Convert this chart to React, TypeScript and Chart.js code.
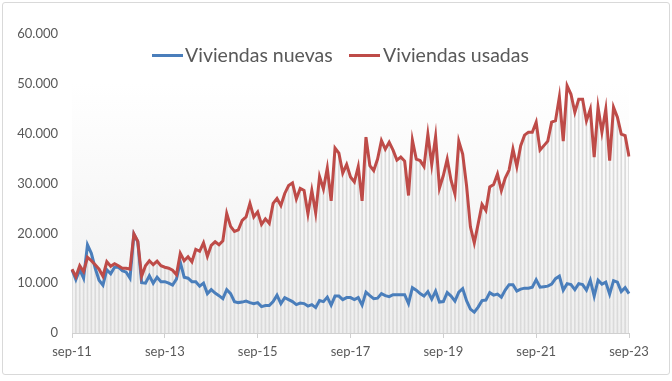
import React, { useEffect, useRef } from "react";
import { Chart, registerables } from "chart.js";

Chart.register(...registerables);

// ---- Data ----
const MONTHS = ["ene", "feb", "mar", "abr", "may", "jun", "jul", "ago", "sep", "oct", "nov", "dic"];
const START_YEAR = 2011;
const START_MONTH = 8; // sep
const N_POINTS = 145; // sep-11 .. sep-23

const VIVIENDAS_NUEVAS = [
  12700, 10700, 12700, 11000, 17700, 16000, 13000, 10600, 9600, 12700,
  11900, 13200, 13200, 12500, 12200, 11000, 19800, 18300, 10100, 10000,
  11500, 10000, 11200, 10300, 10300, 10000, 9600, 10800, 14200, 11200,
  11000, 10300, 10300, 9400, 10000, 7900, 8700, 8000, 7500, 6900,
  8700, 7900, 6300, 6100, 6200, 6400, 6100, 5900, 6100, 5300,
  5500, 5500, 6300, 7600, 5900, 7100, 6700, 6300, 5700, 6000,
  5900, 5400, 5700, 5100, 6500, 6300, 7200, 5600, 7400, 7400,
  6700, 7100, 7100, 6700, 7100, 5600, 8200, 7500, 6900, 7000,
  7900, 7500, 7300, 7700, 7700, 7700, 7700, 5900, 9100, 8600,
  7900, 7400, 8300, 6800, 8400, 6200, 6300, 8100, 7400, 6400,
  8200, 8900, 6500, 4800, 4200, 5200, 6500, 6600, 8100, 7600,
  7800, 7200, 8600, 9700, 9700, 8400, 8800, 9000, 9000, 9200,
  10700, 9200, 9300, 9400, 9800, 10900, 11400, 8600, 9900, 9700,
  8700, 9900, 9700, 8600, 10600, 7400, 10600, 9800, 10200, 7800,
  10500, 10200, 8300, 9100, 7900,
];

const VIVIENDAS_USADAS = [
  12800, 11300, 13500, 12300, 15200, 14500, 13700, 12800, 11400, 14300,
  13400, 13900, 13500, 13000, 13000, 12800, 19900, 18400, 11400, 13500,
  14500, 13700, 14400, 13500, 13200, 13000, 12600, 11700, 16000, 14500,
  15300, 14300, 16800, 16400, 18100, 15400, 17600, 18300, 17700, 18500,
  24000, 21400, 20400, 20700, 22600, 23300, 26000, 23300, 24300, 21800,
  22900, 22000, 26000, 27000, 25600, 28000, 29600, 30100, 26900, 29000,
  28600, 23900, 28600, 24100, 31400, 28900, 33100, 26500, 37100, 36100,
  32100, 33800, 31300, 30300, 33400, 26500, 39300, 33600, 32600, 34900,
  38600, 36900, 38300, 36700, 34700, 35300, 34500, 27600, 38700, 34900,
  34600, 33400, 39900, 33800, 39400, 29100, 31600, 34900, 30600, 27900,
  38500, 35900, 29600, 21300, 18100, 21900, 25800, 24600, 29300, 29800,
  31900, 28600, 31100, 32700, 36900, 33400, 37600, 39700, 40300, 40300,
  42300, 36700, 37600, 38500, 42300, 42600, 47400, 38500, 49600, 47900,
  44300, 46900, 46900, 42600, 44900, 35300, 45300, 40300, 44900, 34600,
  45300, 43300, 39900, 39600, 35400,
];

const Y_MIN = 0;
const Y_MAX = 60000;
const Y_STEP = 10000;
const X_TICK_EVERY = 24; // label every two years
const PLOT_BG_TOP = 50000;

const SERIES_NAMES = ["Viviendas nuevas", "Viviendas usadas"];

// ---- Styles ----
const BLUE = "#4a7ebb";
const RED = "#be4b48";
const TEXT = "#595959";
const FONT = "Lato, 'Open Sans', sans-serif";

function buildLabels(): string[] {
  const out: string[] = [];
  for (let k = 0; k < N_POINTS; k++) {
    const m = (START_MONTH + k) % 12;
    const y = START_YEAR + Math.floor((START_MONTH + k) / 12);
    out.push(`${MONTHS[m]}-${String(y % 100).padStart(2, "0")}`);
  }
  return out;
}

function fmt(v: number): string {
  return String(Math.round(v)).replace(/\B(?=(\d{3})+(?!\d))/g, ".");
}

const bgPlugin = {
  id: "plotBg",
  beforeDraw(chart: any) {
    const { ctx, scales } = chart;
    const x = scales.x;
    const y = scales.y;
    const n = chart.data.labels.length;
    const left = x.getPixelForValue(0);
    const right = x.getPixelForValue(n - 1);
    const top = y.getPixelForValue(PLOT_BG_TOP);
    const bottom = y.getPixelForValue(0);
    const g = ctx.createLinearGradient(0, top, 0, bottom);
    g.addColorStop(0, "#ffffff");
    g.addColorStop(1, "#efefef");
    ctx.save();
    ctx.fillStyle = g;
    ctx.fillRect(left, top, right - left, bottom - top);
    ctx.restore();
  },
};

export default function App() {
  const ref = useRef<HTMLCanvasElement | null>(null);

  useEffect(() => {
    document.body.style.margin = "0";
    const labels = buildLabels();
    const drop = VIVIENDAS_USADAS.map((v, i) => Math.max(v, VIVIENDAS_NUEVAS[i]));
    const chart = new Chart(ref.current as HTMLCanvasElement, {
      type: "bar",
      data: {
        labels,
        datasets: [
          {
            type: "line",
            label: SERIES_NAMES[1],
            data: VIVIENDAS_USADAS,
            borderColor: RED,
            backgroundColor: RED,
            borderWidth: 3,
            pointRadius: 0,
            tension: 0,
            order: 0,
          } as any,
          {
            type: "line",
            label: SERIES_NAMES[0],
            data: VIVIENDAS_NUEVAS,
            borderColor: BLUE,
            backgroundColor: BLUE,
            borderWidth: 3,
            pointRadius: 0,
            tension: 0,
            order: 1,
          } as any,
          {
            type: "bar",
            label: "drop",
            data: drop,
            backgroundColor: "#dadada",
            barThickness: 1,
            order: 2,
          } as any,
        ],
      },
      options: {
        responsive: false,
        animation: false,
        layout: { padding: { top: 34, right: 43, left: 0, bottom: 0 } },
        plugins: {
          legend: { display: false },
          tooltip: { enabled: false },
        },
        scales: {
          x: {
            offset: false,
            grid: {
              display: true,
              offset: false,
              drawOnChartArea: false,
              drawTicks: true,
              tickLength: 5,
              color: "#d0d0d0",
            },
            border: { display: true, color: "#d0d0d0", width: 1 },
            ticks: {
              autoSkip: false,
              maxRotation: 0,
              padding: 6,
              color: TEXT,
              font: { family: FONT, size: 13 },
            },
            afterBuildTicks: (s: any) => {
              s.ticks = s.ticks.filter((t: any) => t.value % X_TICK_EVERY === 0);
            },
            afterFit: (s: any) => {
              s.height = 48;
            },
          },
          y: {
            min: Y_MIN,
            max: Y_MAX,
            grid: { display: false, drawTicks: false },
            border: { display: false },
            ticks: {
              stepSize: Y_STEP,
              padding: 14,
              color: TEXT,
              font: { family: FONT, size: 13 },
              callback: (v: any) => fmt(Number(v)),
            },
            afterFit: (s: any) => {
              s.width = 72;
            },
          },
        },
      } as any,
      plugins: [bgPlugin],
    });
    return () => chart.destroy();
  }, []);

  const legendText: React.CSSProperties = {
    position: "absolute",
    top: 43,
    height: 24,
    lineHeight: "24px",
    fontFamily: FONT,
    fontSize: 19.5,
    color: TEXT,
    whiteSpace: "nowrap",
  };
  const legendLine = (left: number, color: string): React.CSSProperties => ({
    position: "absolute",
    left,
    top: 54,
    width: 31,
    height: 3,
    background: color,
  });

  return (
    <div style={{ position: "absolute", left: 0, top: 0, width: 672, height: 381, background: "#fff" }}>
      <div
        style={{
          position: "absolute",
          left: 2,
          top: 2,
          width: 668,
          height: 373,
          boxSizing: "border-box",
          border: "1px solid #d9d9d9",
          borderRadius: 3,
        }}
      />
      <canvas ref={ref} width={672} height={381} style={{ position: "absolute", left: 0, top: 0 }} />
      <div style={legendLine(152, BLUE)} />
      <div style={{ ...legendText, left: 185 }}>{SERIES_NAMES[0]}</div>
      <div style={legendLine(349, RED)} />
      <div style={{ ...legendText, left: 383 }}>{SERIES_NAMES[1]}</div>
    </div>
  );
}
